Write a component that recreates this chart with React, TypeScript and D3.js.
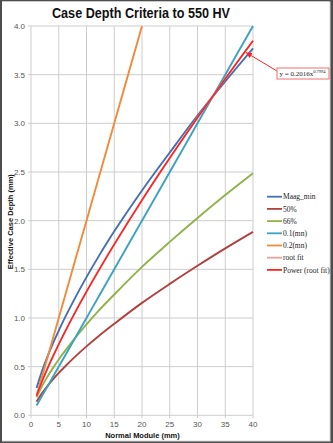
import React from "react";
import * as d3 from "d3";

const modules = [1, 2, 3, 4, 5, 6, 8, 10, 12, 15, 20, 25, 30, 35, 40];
const maagMin = [0.28, 0.457, 0.607, 0.744, 0.87, 0.99, 1.212, 1.42, 1.615, 1.89, 2.31, 2.7, 3.08, 3.43, 3.77];
const pct50 = [0.14, 0.228, 0.303, 0.371, 0.435, 0.494, 0.605, 0.708, 0.805, 0.94, 1.155, 1.35, 1.536, 1.715, 1.885];
const pct66 = [0.185, 0.301, 0.4, 0.49, 0.574, 0.652, 0.799, 0.935, 1.063, 1.241, 1.525, 1.782, 2.028, 2.264, 2.488];
const mn01 = [0.1, 0.2, 0.3, 0.4, 0.5, 0.6, 0.8, 1.0, 1.2, 1.5, 2.0, 2.5, 3.0, 3.5, 4.0];
const mn02 = [0.2, 0.4, 0.6, 0.8, 1.0, 1.2, 1.6, 2.0, 2.4, 3.0, 4.0];
const rootFit = [0.2016, 0.351, 0.485, 0.61, 0.73, 0.845, 1.063, 1.27, 1.469, 1.756, 2.211, 2.643, 3.057, 3.458, 3.848];
const powerFit = [0.2016, 0.351, 0.485, 0.61, 0.73, 0.845, 1.063, 1.27, 1.469, 1.756, 2.211, 2.643, 3.057, 3.458, 3.848];

const seriesNames = ["Maag_min", "50%", "66%", "0.1(mn)", "0.2(mn)", "root fit", "Power (root fit)"];
const seriesValues = [maagMin, pct50, pct66, mn01, mn02, rootFit, powerFit];
const seriesColors = ["#4470b2", "#b0413e", "#8fb349", "#3ca2c3", "#f08a3c", "#e8a2a2", "#ff2222"];

const xTicks = [0, 5, 10, 15, 20, 25, 30, 35, 40];
const yTicks = [0, 0.5, 1.0, 1.5, 2.0, 2.5, 3.0, 3.5, 4.0];

export default function App() {
  const W = 333, H = 443;
  const x = d3.scaleLinear().domain([0, 40]).range([31, 253]);
  const y = d3.scaleLinear().domain([0, 4]).range([415.3, 26]);
  const line = d3
    .line<[number, number]>()
    .x((d) => x(d[0]))
    .y((d) => y(d[1]))
    .curve(d3.curveCatmullRom.alpha(0.5));

  const font = "Arial, 'Liberation Sans', sans-serif";
  const serif = "'Times New Roman', 'Liberation Serif', serif";
  const legendY0 = 196.7;
  const legendStep = 12.2;

  return (
    <svg width={W} height={H} style={{ position: "absolute", left: 0, top: 0 }}>
      <rect x={0} y={0} width={W} height={H} fill="#4d4d4d" />
      <rect x={2} y={1.5} width={328.5} height={440} fill="#d8d8d8" />
      <rect x={2} y={1.5} width={327.5} height={439} fill="#ffffff" />

      <text
        x={141}
        y={17.5}
        textAnchor="middle"
        fontFamily={font}
        fontWeight="bold"
        fontSize={14}
        textLength={178}
        lengthAdjust="spacingAndGlyphs"
        fill="#111"
      >
        Case Depth Criteria to 550 HV
      </text>

      {/* grid */}
      {xTicks.map((t) => (
        <line key={"gx" + t} x1={x(t)} x2={x(t)} y1={y(4)} y2={y(0) + 3} stroke="#cdcdcd" strokeWidth={1} />
      ))}
      {yTicks.map((t) => (
        <line key={"gy" + t} x1={x(0) - 3} x2={x(40)} y1={y(t)} y2={y(t)} stroke="#cdcdcd" strokeWidth={1} />
      ))}

      {/* tick labels */}
      {yTicks.map((t) => (
        <text key={"ty" + t} x={25} y={y(t) + 3} textAnchor="end" fontFamily={font} fontSize={8} fill="#555">
          {t.toFixed(1)}
        </text>
      ))}
      {xTicks.map((t) => (
        <text key={"tx" + t} x={x(t)} y={426.5} textAnchor="middle" fontFamily={font} fontSize={8} fill="#555">
          {t}
        </text>
      ))}

      <text
        transform={`translate(12.5, 221.7) rotate(-90)`}
        textAnchor="middle"
        fontFamily={font}
        fontWeight="bold"
        fontSize={7.5}
        fill="#111"
      >
        Effective Case Depth (mm)
      </text>
      <text x={142.5} y={437.5} textAnchor="middle" fontFamily={font} fontWeight="bold" fontSize={7.5} fill="#111">
        Normal Module (mm)
      </text>

      {/* series */}
      {seriesValues.map((vals, i) => {
        const pts = vals.map((v, j) => [modules[j], v] as [number, number]);
        return (
          <path
            key={"s" + i}
            d={line(pts) || ""}
            fill="none"
            stroke={seriesColors[i]}
            strokeWidth={i === 6 ? 1.6 : 1.9}
          />
        );
      })}

      {/* legend */}
      {seriesNames.map((n, i) => {
        const ly = legendY0 + i * legendStep;
        return (
          <g key={"l" + i}>
            <line x1={267} x2={282} y1={ly} y2={ly} stroke={seriesColors[i]} strokeWidth={1.8} />
            <text x={283} y={ly + 2.7} fontFamily={serif} fontSize={7.5} fill="#222">
              {n}
            </text>
          </g>
        );
      })}

      {/* annotation */}
      <defs>
        <marker id="arr" markerWidth={8} markerHeight={8} refX={6} refY={3} orient="auto" markerUnits="userSpaceOnUse">
          <path d="M0,0 L6,3 L0,6 Z" fill="#ff2222" />
        </marker>
      </defs>
      <line x1={277} y1={71} x2={246} y2={52.5} stroke="#ff2222" strokeWidth={1} markerEnd="url(#arr)" />
      <rect x={277} y={68} width={52} height={11} fill="#fff" stroke="#f07070" strokeWidth={1} />
      <text x={279.5} y={76.3} fontFamily={serif} fontSize={7} fill="#222">
        y = 0.2016x
        <tspan dy={-3} fontSize={4.5}>0.7994</tspan>
      </text>
    </svg>
  );
}
